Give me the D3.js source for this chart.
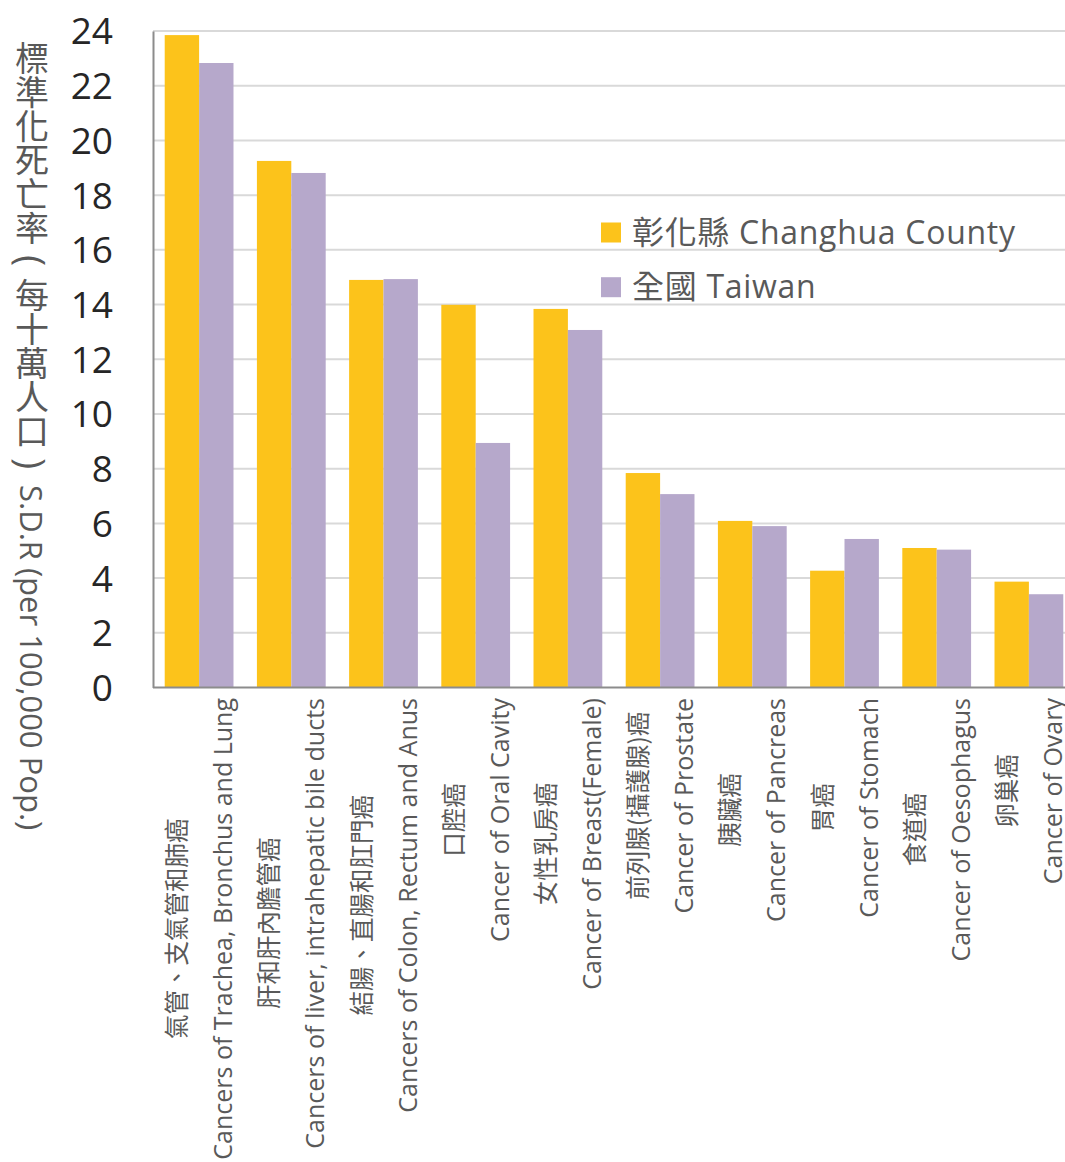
<!DOCTYPE html>
<html>
<head>
<meta charset="utf-8">
<script src="https://cdn.jsdelivr.net/npm/d3@7/dist/d3.min.js"></script>
<style>
  html, body { margin: 0; padding: 0; background: #fff; }
  svg { display: block; }
</style>
</head>
<body>
<svg id="chart" width="1065" height="1162"></svg>
<script>
// ---- data ----
const categoriesZh = ["氣管、支氣管和肺癌", "肝和肝內膽管癌", "結腸、直腸和肛門癌", "口腔癌", "女性乳房癌",
  "前列腺(攝護腺)癌", "胰臟癌", "胃癌", "食道癌", "卵巢癌"];
const categoriesEn = ["Cancers of Trachea, Bronchus and Lung", "Cancers of liver, intrahepatic bile ducts",
  "Cancers of Colon, Rectum and Anus", "Cancer of Oral Cavity", "Cancer of Breast(Female)",
  "Cancer of Prostate", "Cancer of Pancreas", "Cancer of Stomach", "Cancer of Oesophagus", "Cancer of Ovary"];
const changhua = [23.85, 19.25, 14.90, 13.99, 13.84, 7.84, 6.09, 4.27, 5.10, 3.87];
const taiwan   = [22.83, 18.81, 14.93, 8.94, 13.07, 7.07, 5.90, 5.43, 5.04, 3.41];
const seriesNames = ["彰化縣 Changhua County", "全國 Taiwan"];
const yTicks = [0, 2, 4, 6, 8, 10, 12, 14, 16, 18, 20, 22, 24];
const yTitleParts = ["標準化死亡率", "(", "每十萬人口", ")", "S.D.R (per 100,000 Pop.)"];

const colors = ["#FCC31B", "#B6A8CB"];
const latinFont = "'Open Sans', 'Noto Sans CJK TC', sans-serif";
const cjkFont = "'Noto Sans CJK TC', 'Open Sans', sans-serif";

const svg = d3.select("#chart");
const pLeft = 153, pRight = 1075, pTop = 31, pBottom = 687.5;

const x = d3.scaleBand().domain(d3.range(categoriesEn.length))
  .range([pLeft, pRight]).paddingInner(0.254).paddingOuter(0.127);
const xs = d3.scaleBand().domain([0, 1]).range([0, x.bandwidth()]);
const y = d3.scaleLinear().domain([0, 24]).range([pBottom, pTop]);

// gridlines
svg.append("g").selectAll("line").data(yTicks.filter(d => d > 0)).join("line")
  .attr("x1", pLeft).attr("x2", 1065)
  .attr("y1", d => y(d)).attr("y2", d => y(d))
  .attr("stroke", "#d9d9d9").attr("stroke-width", 2);

// bars
const series = [changhua, taiwan];
const g = svg.append("g");
series.forEach((vals, si) => {
  g.append("g").selectAll("rect").data(vals).join("rect")
    .attr("x", (d, i) => x(i) + xs(si))
    .attr("width", xs.bandwidth())
    .attr("y", d => y(d))
    .attr("height", d => y(0) - y(d))
    .attr("fill", colors[si]);
});

// axes lines
const yAxis = d3.axisLeft(y).tickValues(yTicks).tickSize(0).tickPadding(0);
const ya = svg.append("g").attr("transform", `translate(${pLeft},0)`).call(yAxis);
ya.select(".domain").attr("stroke", "#8c8c8c").attr("stroke-width", 2);
ya.selectAll("text")
  .attr("x", 113 - pLeft)
  .attr("dy", "0.35em")
  .attr("text-anchor", "end")
  .style("font-family", latinFont).style("font-size", "37px").attr("fill", "#262626");

svg.append("line").attr("x1", pLeft).attr("x2", 1065).attr("y1", y(0)).attr("y2", y(0))
  .attr("stroke", "#8c8c8c").attr("stroke-width", 2);

// category labels
const labG = svg.append("g");
categoriesEn.forEach((en, i) => {
  const cx = x(i) + x.bandwidth() / 2;
  const grp = labG.append("g").attr("transform", `translate(${cx},698) rotate(-90)`);
  const tZh = grp.append("text").text(categoriesZh[i])
    .attr("y", -13).attr("text-anchor", "middle")
    .style("font-family", cjkFont).style("font-size", "24.5px").attr("fill", "#595959");
  const tEn = grp.append("text").text(en)
    .attr("y", 33).attr("text-anchor", "middle")
    .style("font-family", latinFont).style("font-size", "25px").attr("fill", "#595959");
  const maxLen = Math.max(tZh.node().getComputedTextLength(), tEn.node().getComputedTextLength());
  tZh.attr("x", -maxLen / 2);
  tEn.attr("x", -maxLen / 2);
});

// y axis title (vertical)
const yt = svg.append("text")
  .attr("x", 32).attr("y", 41)
  .style("writing-mode", "vertical-rl")
  .attr("fill", "#595959");
const ytDy = [0, 10, 12, 10, 16];
const ytSize = ["34px", "38px", "34px", "38px", "31px"];
yTitleParts.forEach((p, i) => {
  const isLatin = i === yTitleParts.length - 1 || p === "(" || p === ")";
  yt.append("tspan").text(p).attr("dy", ytDy[i])
    .style("font-family", isLatin ? latinFont : cjkFont)
    .style("font-size", ytSize[i]);
});

// legend
const legY = [232.5, 287.2];
seriesNames.forEach((nm, i) => {
  svg.append("rect").attr("x", 601).attr("y", legY[i] - 10).attr("width", 20).attr("height", 20)
    .attr("fill", colors[i]);
  svg.append("text").text(nm).attr("x", 632).attr("y", legY[i]).attr("dy", "0.35em")
    .style("letter-spacing", "0.7px")
    .style("font-family", latinFont).style("font-size", "32px").attr("fill", "#595959");
});
</script>
</body>
</html>
